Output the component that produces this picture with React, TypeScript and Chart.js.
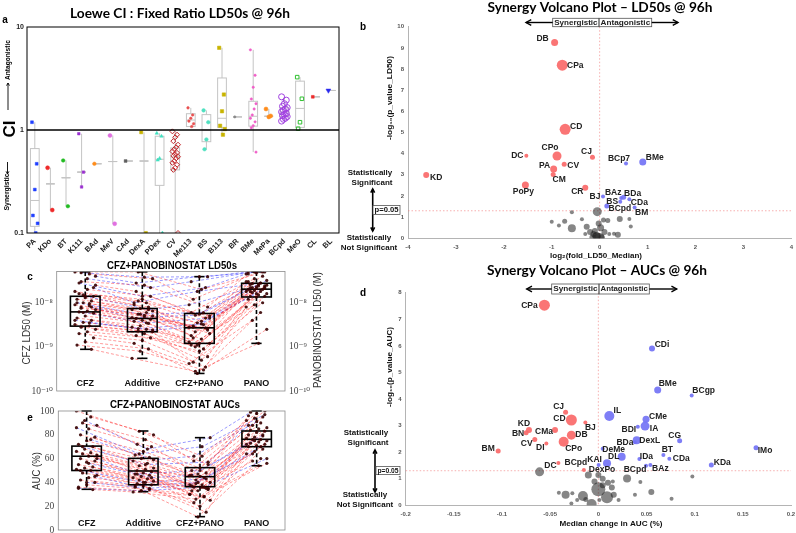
import React, { useEffect, useRef } from "react";
import { Chart, registerables } from "chart.js";

Chart.register(...registerables);

// ================= Panel a : Loewe CI (fixed ratio LD50s) =================
const ciCategories = ["PA", "KDo", "BT", "K111", "BAd", "MeV", "CAd", "DexA", "PDex", "CV", "Me113", "BS", "B113", "BR", "BMe", "MePa", "BCpd", "MeO", "CL", "BL"];
const ciMin = [0.1, 0.167, 0.182, 0.28, 0.47, 0.123, 0.5, 0.1, 0.1, 0.1, 1.05, 0.646, 0.9, 1.34, 0.61, 1.34, 1.22, 1.03, 2.1, 2.42];
const ciQ1 = [0.116, 0.3, 0.344, 0.39, 0.47, 0.494, 0.5, 0.5, 0.29, 0.41, 1.08, 0.77, 1.06, 1.34, 1.09, 1.36, 1.35, 1.06, 2.1, 2.42];
const ciMedian = [0.207, 0.3, 0.344, 0.39, 0.47, 0.494, 0.5, 0.5, 0.52, 0.55, 1.25, 1.0, 1.3, 1.34, 1.36, 1.36, 1.5, 1.62, 2.1, 2.42];
const ciQ3 = [0.66, 0.3, 0.344, 0.39, 0.47, 0.494, 0.5, 0.5, 0.87, 0.67, 1.44, 1.41, 3.2, 1.34, 1.9, 1.36, 1.65, 2.98, 2.1, 2.42];
const ciMax = [1.19, 0.43, 0.506, 0.92, 0.47, 0.885, 0.5, 0.95, 0.93, 0.97, 1.64, 1.55, 6.28, 1.34, 6.0, 1.6, 2.1, 3.26, 2.1, 2.42];
const ciPoints = [
  [1.19, 0.47, 0.264, 0.148, 0.124, 0.1],
  [0.43, 0.167],
  [0.506, 0.182],
  [0.92, 0.39, 0.28],
  [0.47],
  [0.885, 0.123],
  [0.5],
  [0.95, 0.1],
  [0.93, 0.87, 0.53, 0.51, 0.1],
  [0.97, 0.9, 0.85, 0.78, 0.72, 0.68, 0.65, 0.62, 0.6, 0.58, 0.56, 0.55, 0.53, 0.5, 0.48, 0.46, 0.43, 0.41, 0.1],
  [1.64, 1.4, 1.3, 1.22, 1.15, 1.08],
  [1.55, 1.19, 0.81, 0.65],
  [6.28, 2.21, 1.52, 1.1, 1.02, 0.9],
  [1.34],
  [6.0, 3.4, 2.6, 2.0, 1.8, 1.6, 1.4, 1.3, 1.2, 1.1, 1.05, 0.61],
  [1.6, 1.37, 1.34],
  [2.1, 1.95, 1.8, 1.7, 1.65, 1.6, 1.55, 1.5, 1.45, 1.42, 1.38, 1.35, 1.3, 1.27, 1.22],
  [3.26, 2.01, 1.19, 1.03],
  [2.1],
  [2.42],
];
const ciTicks = [0.1, 1, 10];

// ================= Panel b : volcano LD50 =================
const ld50SynNames = ["DB", "CPa", "CD", "CPo", "DC", "PA", "CV", "CM", "CJ", "KD", "PoPy", "CR"];
const ld50SynX = [-0.94, -0.78, -0.72, -0.89, -1.53, -0.96, -0.74, -0.97, -0.15, -3.62, -1.55, -0.3];
const ld50SynY = [9.25, 8.18, 5.15, 3.89, 3.9, 3.27, 3.5, 3.02, 3.83, 2.99, 2.52, 2.39];
const ld50SynSize = [3.5, 5.5, 5.5, 4.5, 2, 3.5, 2.5, 2.5, 2.5, 3, 3.5, 3];
const ld50AntNames = ["BCp7", "BMe", "BJ", "BAz", "BDa", "BS", "CDa", "BCpd", "BM"];
const ld50AntX = [0.55, 0.9, 0.07, 0.45, 0.5, 0.43, 0.62, 0.15, 0.73];
const ld50AntY = [3.54, 3.6, 1.98, 1.9, 1.94, 1.73, 1.84, 1.53, 1.46];
const ld50AntSize = [2, 3.5, 2, 2, 2.5, 2, 2, 2.5, 2];
const ld50NsX = [-0.58, -0.05, -1.0, -0.73, -0.85, -0.58, -0.37, -0.27, -0.2, -0.13, -0.3, -0.07, 0.08, 0.17, 0.42, 0.62, 0.65, 0.02, -0.1, 0.2, 0.3, 0.38, -0.06, 0.04, 0.0, -0.15, -0.02, 0.1];
const ld50NsY = [1.23, 1.26, 0.78, 0.8, 0.6, 0.47, 0.9, 0.55, 0.3, 0.2, 0.2, 0.1, 0.86, 0.84, 0.91, 0.91, 0.56, 0.5, 0.35, 0.2, 0.22, 0.17, 0.1, 0.05, 0.02, 0.05, 0.7, 0.3];
const ld50NsSize = [2, 4.5, 2, 2.5, 2, 4, 2, 3, 3, 3, 2, 4, 2.5, 2.5, 3, 2, 2, 3.5, 3, 2, 2, 3, 4, 3, 5, 3, 3, 3];
const ld50XTicks = [-4, -3, -2, -1, 0, 1, 2, 3, 4];
const ld50YTicks = [0, 1, 2, 3, 4, 5, 6, 7, 8, 9, 10];

// ================= Panel d : volcano AUC =================
const aucSynNames = ["CPa", "CJ", "CD", "BJ", "KD", "BN", "CMa", "DB", "CV", "DI", "CPo", "BM", "DC", "BCpd"];
const aucSynX = [-0.056, -0.034, -0.028, -0.0135, -0.072, -0.075, -0.045, -0.028, -0.066, -0.054, -0.036, -0.104, -0.0415, -0.015];
const aucSynY = [7.53, 3.5, 3.21, 3.12, 2.83, 2.73, 2.83, 2.64, 2.48, 2.33, 2.39, 2.04, 1.59, 1.33];
const aucSynSize = [5.5, 2.5, 5.5, 2, 3, 2.5, 3, 4.5, 2.5, 2, 5, 2.5, 2, 2];
const aucAntNames = ["CDi", "BMe", "BCgp", "IL", "CMe", "BDI", "IA", "CG", "BDa", "DexL", "IMo", "DeMe", "BT", "CDa", "IDa", "DL", "KAI", "DexPo", "BCpd", "BAz", "KDa"];
const aucAntX = [0.0557, 0.0616, 0.0969, 0.0114, 0.0495, 0.041, 0.0485, 0.0844, 0.038, 0.0398, 0.1637, 0.0045, 0.0675, 0.0737, 0.0426, 0.0242, 0.0003, 0.009, 0.0495, 0.054, 0.1173];
const aucAntY = [5.9, 4.34, 4.13, 3.36, 3.24, 2.96, 2.98, 2.43, 2.37, 2.45, 2.17, 2.13, 1.89, 1.75, 1.74, 1.83, 1.52, 1.58, 1.49, 1.52, 1.52];
const aucAntSize = [3, 3.5, 2, 5, 3.5, 2, 4.5, 2.5, 2, 4, 2.5, 2, 2, 2, 2, 4, 2, 4, 2, 2, 2.5];
const aucNsX = [-0.061, -0.0104, 0, 0.0298, 0.0976, 0.0436, 0.0045, -0.004, 0.01, 0.015, 0, 0.009, -0.016, -0.007, -0.034, -0.027, -0.041, -0.013, -0.028, -0.022, 0.014, 0.016, 0.021, 0.001, 0.038, 0.055, 0.076, 0.0045];
const aucNsY = [1.26, 1.14, 1.14, 1.01, 1.08, 0.88, 1.0, 0.9, 0.85, 0.9, 0.6, 0.3, 0.35, 0.05, 0.4, 0.45, 0.47, 0.22, 0.07, 0.2, 0.67, 0.4, 0.2, 0.2, 0.4, 0.5, 0.25, 0.75];
const aucNsSize = [4.5, 3.5, 3, 4, 2, 2, 3, 3, 3, 2, 7, 6, 5, 5, 4, 2, 2, 2.5, 2, 2, 3, 3, 2, 2, 2, 3, 2, 3];
const aucXTicks = [-0.2, -0.15, -0.1, -0.05, 0, 0.05, 0.1, 0.15, 0.2];
const aucYTicks = [0, 1, 2, 3, 4, 5, 6, 7, 8];

// ================= Panel c : CFZ+PANOBINOSTAT LD50s (nM) =================
const groupLabels = ["CFZ", "Additive", "CFZ+PANO", "PANO"];
const ld50Min = [0.88, 0.55, 0.25, 1.2];
const ld50Q1 = [2.95, 2.2, 1.2, 13.5];
const ld50Median = [6.2, 4.4, 2.7, 20.3];
const ld50Q3 = [14, 7.4, 5.7, 27.6];
const ld50Max = [50, 50, 39, 50];
const ld50Cfz = [50, 45, 30, 25, 20, 16, 14, 13, 12, 11, 10, 9, 8.5, 8, 7, 6.5, 6.2, 5.8, 5, 4.5, 4, 3.6, 3.2, 3, 2.8, 2.5, 2.2, 2.0, 1.6, 1.3, 1.1, 0.88, 15, 18, 9.5, 7.5, 40, 35, 28, 22, 14, 10, 8, 6, 4, 3.5, 48];
const ld50Additive = [50, 35, 25, 18, 14, 12, 9, 8, 7.4, 7, 6, 5.5, 5, 4.8, 4.4, 4.2, 4, 3.8, 3.4, 3, 2.8, 2.5, 2.3, 2.2, 2.0, 1.8, 1.6, 1.4, 1.2, 0.9, 0.8, 0.55, 10, 11, 6.5, 5.2, 28, 22, 14, 10, 7, 5.5, 4.6, 3.5, 2.6, 2.4, 38];
const ld50Combo = [20, 12, 8, 5.5, 6, 4.5, 3.5, 2.8, 3.2, 2.2, 2, 1.5, 3, 2.6, 1.2, 1.8, 2.7, 1.1, 1.3, 0.9, 1.0, 1.2, 0.5, 0.45, 0.6, 0.8, 1.1, 0.35, 0.25, 0.42, 0.3, 0.28, 5, 3.8, 1.6, 2.4, 39, 30, 22, 18, 9, 6, 5.2, 4.5, 3.3, 2.8, 39];
const ld50Pano = [50, 48, 45, 40, 35, 30, 28, 27, 25, 24, 22, 21, 21, 20, 20, 19, 18, 18, 17, 16, 15, 14, 14, 13.5, 12, 10, 9, 8, 6, 4, 2.5, 1.2, 26, 24, 23, 30, 50, 50, 45, 28, 22, 32, 26, 18, 22, 16, 50];
const ld50AxisTicks = [1e-10, 1e-9, 1e-8];

// ================= Panel e : CFZ+PANOBINOSTAT AUCs (%) =================
const aucMin = [34.2, 32.2, 11.2, 54];
const aucQ1 = [50, 38, 36.4, 70];
const aucMedian = [62, 49.6, 44.8, 76.2];
const aucQ3 = [70.5, 60.2, 52.4, 83.2];
const aucMax = [100, 83.2, 77.6, 100];
const aucCfz = [100, 95, 90, 88, 85, 80, 78, 75, 72, 70, 68, 66, 65, 64, 63, 62, 60, 58, 57, 55, 53, 52, 51, 50, 48, 46, 44, 42, 40, 38, 36, 34, 92, 86, 76, 70, 60, 56, 50, 45, 40, 35];
const aucAdditive = [83, 80, 76, 72, 70, 66, 63, 61, 60, 58, 56, 54, 52, 51, 50, 49, 48, 47, 46, 45, 44, 43, 42, 41, 40, 39, 38, 37, 36, 34, 33, 32, 68, 64, 59, 55, 47, 44, 40, 37, 35, 33];
const aucCombo = [62, 58, 55, 52, 50, 48, 47, 46, 44, 42, 40, 38, 36, 34, 45, 37, 35, 33, 30, 28, 39, 25, 36, 23, 35, 20, 33, 15, 11, 30, 28, 26, 77.6, 70, 62, 57, 50, 46, 43, 40, 38, 36];
const aucPano = [100, 98, 96, 95, 94, 92, 90, 88, 86, 85, 84, 83, 82, 80, 79, 78, 77, 76, 76, 75, 74, 73, 72, 71, 70, 68, 66, 64, 60, 58, 56, 54, 99, 97, 91, 88, 80, 75, 72, 70, 64, 60];
const aucAxisTicks = [0, 20, 40, 60, 80, 100];

// ================= styles (kept apart from data) =================
const SANS = '"Liberation Sans", Arial, Helvetica, sans-serif';
const SERIF = '"Liberation Serif", "DejaVu Serif", "Times New Roman", serif';
const TITLE = 'Lato, "Open Sans", "Liberation Sans", sans-serif';
const RED = "rgba(250,105,105,0.92)";
const BLUE = "rgba(115,115,245,0.92)";
const GRAY = "rgba(35,35,35,0.55)";
const LINE_RED = "rgba(255,45,45,0.6)";
const LINE_BLUE = "rgba(45,45,255,0.6)";
const DOT = "rgba(55,0,0,0.9)";
const ciColors = ["#1f3fff", "#ee2a2a", "#22bb22", "#9a2fd0", "#ff8c1a", "#e070e0", "#606060", "#c8b400", "#40e0c0", "#c0282c", "#e85050", "#50e0c0", "#c8b400", "#8a8a8a", "#f060c8", "#ff8c1a", "#a040e0", "#30c030", "#ee2a2a", "#2a2aee"];
const ciShapes = ["rect", "circle", "circle", "rect", "circle", "circle", "rect", "rect", "triangle", "rectRot", "circle", "circle", "rect", "circle", "circle", "circle", "circle", "rect", "rect", "triangle"];
const ciFilled = [true, true, true, true, true, true, true, true, true, false, true, true, true, true, true, true, false, false, true, true];
const ciRadius = [2, 2, 1.8, 1.8, 1.8, 2, 2, 2.2, 2, 2.5, 1.3, 1.8, 2.4, 1.2, 1.2, 2, 3, 2.5, 2, 2.8];
const ld50SynOffsets = [[-12, -4], [13, 0], [11, -3], [-7, -8], [-9, 0], [-9, -3], [9, 1], [6, 5], [-6, -6], [10, 3], [-2, 7], [-8, 4]];
const ld50AntOffsets = [[-7, -5], [12, -4], [-8, 0], [-8, -5], [9, -4], [-8, 0], [10, 3], [13, 3], [7, 5]];
const aucSynOffsets = [[-15, 0], [-7, -6], [-12, -1], [5, 5], [-5, -6], [-8, 1], [-11, 2], [10, 0], [-8, 4], [-6, 4], [10, 7], [-10, -2], [-8, 3], [-8, -7]];
const aucAntOffsets = [[10, -4], [10, -6], [12, -5], [8, -5], [12, -3], [-9, 3], [9, 3], [-5, -5], [-10, 0], [13, 0], [9, 3], [11, 1], [4, -5], [12, 0], [7, -2], [-8, 0], [-4, -5], [-5, 6], [-11, 4], [10, 4], [11, -2]];

// ================= helpers =================
type TOpt = { color?: string; align?: CanvasTextAlign; rotate?: number; width?: number };
function drawText(ctx: CanvasRenderingContext2D, s: string, x: number, y: number, font: string, o: TOpt = {}) {
  ctx.save();
  ctx.translate(x, y);
  if (o.rotate) ctx.rotate(o.rotate);
  ctx.font = font;
  ctx.fillStyle = o.color || "#000";
  ctx.textAlign = o.align || "center";
  ctx.textBaseline = "middle";
  if (o.width) {
    const w = ctx.measureText(s).width;
    if (w > 0) ctx.scale(o.width / w, 1);
  }
  ctx.fillText(s, 0, 0);
  ctx.restore();
}
function seg(ctx: CanvasRenderingContext2D, x1: number, y1: number, x2: number, y2: number) {
  ctx.beginPath();
  ctx.moveTo(x1, y1);
  ctx.lineTo(x2, y2);
  ctx.stroke();
}
function arrowHead(ctx: CanvasRenderingContext2D, x1: number, y1: number, x2: number, y2: number, head: number) {
  const a = Math.atan2(y2 - y1, x2 - x1);
  ctx.beginPath();
  ctx.moveTo(x2 - head * Math.cos(a - 0.5), y2 - head * Math.sin(a - 0.5));
  ctx.lineTo(x2, y2);
  ctx.lineTo(x2 - head * Math.cos(a + 0.5), y2 - head * Math.sin(a + 0.5));
  ctx.stroke();
}
function arrow(ctx: CanvasRenderingContext2D, x1: number, y1: number, x2: number, y2: number, head = 5, lw = 1.4, both = false) {
  ctx.save();
  ctx.strokeStyle = "#000";
  ctx.lineWidth = lw;
  seg(ctx, x1, y1, x2, y2);
  arrowHead(ctx, x1, y1, x2, y2, head);
  if (both) arrowHead(ctx, x2, y2, x1, y1, head);
  ctx.restore();
}
const SUP: Record<string, string> = { "0": "⁰", "1": "¹", "2": "²", "3": "³", "4": "⁴", "5": "⁵", "6": "⁶", "7": "⁷", "8": "⁸", "9": "⁹", "-": "⁻" };
function pow10Label(v: number) {
  const e = String(Math.round(Math.log10(v)));
  return "10" + e.split("").map((c) => SUP[c] || c).join("");
}
const fmt = (v: number) => String(Math.round(v * 100) / 100);
const jit = (i: number, k: number) => ((((i * 7 + k * 3) % 11) - 5) * 0.036);

type Box = { pos: number[]; min: number[]; q1: number[]; med: number[]; q3: number[]; max: number[]; half: number; cap: number; color: string; lw: number; dash: number[]; k: number };
function drawBoxes(chart: any, b: Box) {
  const ctx: CanvasRenderingContext2D = chart.ctx;
  const xs = chart.scales.x;
  const ys = chart.scales.y;
  ctx.save();
  ctx.strokeStyle = b.color;
  ctx.lineWidth = b.lw;
  b.pos.forEach((p, i) => {
    const xl = xs.getPixelForValue(p - b.half);
    const xr = xs.getPixelForValue(p + b.half);
    const xc = xs.getPixelForValue(p);
    const y = (v: number) => ys.getPixelForValue(v * b.k);
    ctx.setLineDash(b.dash);
    if (b.max[i] > b.q3[i]) seg(ctx, xc, y(b.max[i]), xc, y(b.q3[i]));
    if (b.min[i] < b.q1[i]) seg(ctx, xc, y(b.q1[i]), xc, y(b.min[i]));
    ctx.setLineDash([]);
    if (b.cap > 0) {
      const cl = xs.getPixelForValue(p - b.cap);
      const cr = xs.getPixelForValue(p + b.cap);
      seg(ctx, cl, y(b.max[i]), cr, y(b.max[i]));
      seg(ctx, cl, y(b.min[i]), cr, y(b.min[i]));
    }
    ctx.strokeRect(xl, y(b.q3[i]), xr - xl, y(b.q1[i]) - y(b.q3[i]));
    seg(ctx, xl, y(b.med[i]), xr, y(b.med[i]));
  });
  ctx.restore();
}

const base = (padding: any) => ({
  responsive: false,
  animation: false,
  devicePixelRatio: 1,
  events: [],
  layout: { autoPadding: false, padding },
  plugins: { legend: { display: false }, tooltip: { enabled: false }, title: { display: false } },
});

// ================= Panel a =================
function makeA(canvas: HTMLCanvasElement) {
  const datasets = ciPoints.map((pts, i) => ({
    data: pts.map((v, j) => ({ x: i + (((j * 5) % 7) - 3) * 0.06, y: v })),
    pointStyle: ciShapes[i],
    pointRadius: ciRadius[i],
    pointRotation: i === 19 ? 180 : 0,
    backgroundColor: ciFilled[i] ? ciColors[i] : "rgba(0,0,0,0)",
    borderColor: ciColors[i],
    borderWidth: ciFilled[i] ? 0.5 : 1,
  }));
  return new Chart(canvas, {
    type: "scatter",
    data: { datasets },
    options: {
      ...base({ left: 0, top: 27, right: 11, bottom: 0 }),
      scales: {
        x: {
          type: "linear", min: -0.5, max: ciCategories.length - 0.5,
          afterBuildTicks: (s: any) => { s.ticks = ciCategories.map((_, i) => ({ value: i })); },
          afterFit: (s: any) => { s.height = 32; s.paddingLeft = 0; s.paddingRight = 0; },
          grid: { display: false, drawTicks: false }, border: { display: false },
          ticks: { autoSkip: false, maxRotation: 45, minRotation: 45, padding: 4, color: "#222", font: { family: SANS, size: 7.5, weight: "bold" }, callback: (v: any) => ciCategories[v] ?? "" },
        },
        y: {
          type: "logarithmic", min: 0.1, max: 10,
          afterBuildTicks: (s: any) => { s.ticks = ciTicks.map((v) => ({ value: v })); },
          afterFit: (s: any) => { s.width = 27; s.paddingTop = 0; s.paddingBottom = 0; },
          grid: { display: false, drawTicks: false }, border: { display: false },
          ticks: { padding: 3, color: "#222", font: { family: SANS, size: 7, weight: "bold" }, callback: (v: any) => String(v) },
        },
      },
    } as any,
    plugins: [{
      id: "decorA",
      beforeDatasetsDraw(chart: any) {
        drawBoxes(chart, { pos: ciCategories.map((_, i) => i), min: ciMin, q1: ciQ1, med: ciMedian, q3: ciQ3, max: ciMax, half: 0.28, cap: 0, color: "#c4c4c4", lw: 1, dash: [], k: 1 });
      },
      afterDraw(chart: any) {
        const ctx: CanvasRenderingContext2D = chart.ctx;
        const a = chart.chartArea;
        const ys = chart.scales.y;
        ctx.save();
        ctx.strokeStyle = "#000";
        ctx.lineWidth = 1;
        ctx.strokeRect(a.left, a.top, a.right - a.left, a.bottom - a.top);
        ctx.lineWidth = 1.3;
        seg(ctx, a.left, ys.getPixelForValue(1), a.right, ys.getPixelForValue(1));
        ctx.restore();
        drawText(ctx, "Loewe CI : Fixed Ratio LD50s @ 96h", 180, 13.5, `bold 13px ${TITLE}`, { width: 220 });
        drawText(ctx, "a", 5, 20, `bold 10px ${SANS}`);
        drawText(ctx, "CI", 10, 129, `bold 17px ${SANS}`, { rotate: -Math.PI / 2 });
        drawText(ctx, "Antagonistic", 8, 60, `bold 7px ${SANS}`, { rotate: -Math.PI / 2, width: 40 });
        arrow(ctx, 8, 110, 8, 83, 3, 0.9);
        drawText(ctx, "Synergistic", 7.5, 192, `bold 7px ${SANS}`, { rotate: -Math.PI / 2, width: 37 });
        arrow(ctx, 7.5, 162, 7.5, 174, 3, 0.9);
      },
    }],
  });
}

// ================= Volcano (b, d) =================
type Group = { x: number[]; y: number[]; size: number[]; color: string; names?: string[]; offsets?: number[][] };
type VSpec = { ox: number; oy: number; top: number; right: number; yW: number; xH: number; xMin: number; xMax: number; yMax: number; xTicks: number[]; yTicks: number[]; groups: Group[]; decor: (ctx: CanvasRenderingContext2D) => void };
function makeVolcano(canvas: HTMLCanvasElement, s: VSpec) {
  const datasets = s.groups.map((g) => ({
    data: g.x.map((x, i) => ({ x, y: g.y[i], r: g.size[i] })),
    backgroundColor: g.color,
    borderWidth: 0,
  }));
  const tickFont = { family: SANS, size: 6, weight: "bold" };
  return new Chart(canvas, {
    type: "bubble",
    data: { datasets },
    options: {
      ...base({ left: 0, top: s.top, right: s.right, bottom: 0 }),
      scales: {
        x: {
          type: "linear", min: s.xMin, max: s.xMax,
          afterBuildTicks: (sc: any) => { sc.ticks = s.xTicks.map((v) => ({ value: v })); },
          afterFit: (sc: any) => { sc.height = s.xH; sc.paddingLeft = 0; sc.paddingRight = 0; },
          grid: { display: false, drawTicks: false }, border: { display: true, color: "#b4b4b4", width: 1 },
          ticks: { padding: 5, autoSkip: false, maxRotation: 0, color: "#555", font: tickFont, callback: (v: any) => fmt(v) },
        },
        y: {
          type: "linear", min: 0, max: s.yMax,
          afterBuildTicks: (sc: any) => { sc.ticks = s.yTicks.map((v) => ({ value: v })); },
          afterFit: (sc: any) => { sc.width = s.yW; sc.paddingTop = 0; sc.paddingBottom = 0; },
          grid: { display: false, drawTicks: false }, border: { display: true, color: "#b4b4b4", width: 1 },
          ticks: { padding: 4, color: "#555", font: tickFont, callback: (v: any) => fmt(v) },
        },
      },
    } as any,
    plugins: [{
      id: "volcanoDecor",
      beforeDatasetsDraw(chart: any) {
        const ctx: CanvasRenderingContext2D = chart.ctx;
        const a = chart.chartArea;
        const x0 = chart.scales.x.getPixelForValue(0);
        const yp = chart.scales.y.getPixelForValue(-Math.log10(0.05));
        ctx.save();
        ctx.strokeStyle = "rgba(240,120,120,0.75)";
        ctx.lineWidth = 0.8;
        ctx.setLineDash([1.5, 2]);
        seg(ctx, x0, a.top, x0, a.bottom);
        seg(ctx, a.left, yp, a.right, yp);
        ctx.restore();
      },
      afterDatasetsDraw(chart: any) {
        const ctx: CanvasRenderingContext2D = chart.ctx;
        const xs = chart.scales.x;
        const ys = chart.scales.y;
        s.groups.forEach((g) => {
          if (!g.names || !g.offsets) return;
          g.names.forEach((n, i) => {
            const px = xs.getPixelForValue(g.x[i]);
            const py = ys.getPixelForValue(g.y[i]);
            drawText(ctx, n, px + g.offsets![i][0], py + g.offsets![i][1], `bold 8.5px ${SANS}`, { color: "#222" });
          });
        });
      },
      afterDraw(chart: any) {
        const ctx: CanvasRenderingContext2D = chart.ctx;
        ctx.save();
        ctx.translate(-s.ox, -s.oy);
        s.decor(ctx);
        ctx.restore();
      },
    }],
  });
}

function synAnt(ctx: CanvasRenderingContext2D, x1: number, xm: number, x2: number, y1: number, y2: number, al: number, ar: number) {
  ctx.save();
  ctx.strokeStyle = "#555";
  ctx.lineWidth = 0.8;
  ctx.strokeRect(x1, y1, xm - x1, y2 - y1);
  ctx.strokeRect(xm, y1, x2 - xm, y2 - y1);
  ctx.restore();
  const yc = (y1 + y2) / 2;
  drawText(ctx, "Synergistic", (x1 + xm) / 2, yc + 0.3, `bold 7.5px ${SANS}`, { color: "#222", width: xm - x1 - 3 });
  drawText(ctx, "Antagonistic", (xm + x2) / 2, yc + 0.3, `bold 7.5px ${SANS}`, { color: "#222", width: x2 - xm - 3 });
  arrow(ctx, x1, yc, al, yc, 6, 1.4);
  arrow(ctx, x2, yc, ar, yc, 6, 1.4);
}
function sigNote(ctx: CanvasRenderingContext2D, cx: number, ys1: number, ax: number, ay1: number, ay2: number, bx1: number, by1: number, by2: number, ys2: number) {
  const f = `bold 8px ${SANS}`;
  drawText(ctx, "Statistically", cx, ys1, f, { color: "#111" });
  drawText(ctx, "Significant", cx + 2, ys1 + 10, f, { color: "#111" });
  arrow(ctx, ax, ay1, ax, ay2, 4, 1.6, true);
  ctx.save();
  ctx.fillStyle = "#fff";
  ctx.fillRect(bx1, by1, 400 - bx1, by2 - by1);
  ctx.strokeStyle = "#555";
  ctx.lineWidth = 0.8;
  ctx.strokeRect(bx1, by1, 400 - bx1, by2 - by1);
  ctx.restore();
  drawText(ctx, "p=0.05", (bx1 + 400) / 2, (by1 + by2) / 2 + 0.3, `bold 7.5px ${SANS}`, { color: "#111", width: 400 - bx1 - 3 });
  drawText(ctx, "Statistically", cx - 1, ys2, f, { color: "#111" });
  drawText(ctx, "Not Significant", cx - 1, ys2 + 10, f, { color: "#111" });
}

const VOX = 330; // left of the volcano canvases (page px)

function makeB(canvas: HTMLCanvasElement) {
  return makeVolcano(canvas, {
    ox: VOX, oy: 0, top: 26.7, right: 4.7, yW: 408 - VOX, xH: 26.7, xMin: -4, xMax: 4, yMax: 10,
    xTicks: ld50XTicks, yTicks: ld50YTicks,
    groups: [
      { x: ld50SynX, y: ld50SynY, size: ld50SynSize, color: RED, names: ld50SynNames, offsets: ld50SynOffsets },
      { x: ld50AntX, y: ld50AntY, size: ld50AntSize, color: BLUE, names: ld50AntNames, offsets: ld50AntOffsets },
      { x: ld50NsX, y: ld50NsY, size: ld50NsSize, color: GRAY },
    ],
    decor: (ctx) => {
      drawText(ctx, "Synergy Volcano Plot – LD50s @ 96h", 600, 8, `bold 13px ${TITLE}`, { width: 225 });
      drawText(ctx, "b", 363, 27, `bold 10px ${SANS}`);
      synAnt(ctx, 552.7, 599, 651.7, 18.3, 26.7, 526, 678);
      drawText(ctx, "-log₁₀(p_value_LD50)", 390, 98, `bold 7.5px ${SANS}`, { rotate: -Math.PI / 2, width: 84, color: "#111" });
      drawText(ctx, "log₂(fold_LD50_Median)", 596, 256, `bold 8px ${SANS}`, { width: 92, color: "#111" });
      sigNote(ctx, 370, 173, 372.7, 189, 231, 373, 205.5, 214.5, 238);
    },
  });
}

function makeD(canvas: HTMLCanvasElement) {
  return makeVolcano(canvas, {
    ox: VOX, oy: 265, top: 27.7, right: 5, yW: 405.7 - VOX, xH: 27.7, xMin: -0.2, xMax: 0.2, yMax: 8,
    xTicks: aucXTicks, yTicks: aucYTicks,
    groups: [
      { x: aucSynX, y: aucSynY, size: aucSynSize, color: RED, names: aucSynNames, offsets: aucSynOffsets },
      { x: aucAntX, y: aucAntY, size: aucAntSize, color: BLUE, names: aucAntNames, offsets: aucAntOffsets },
      { x: aucNsX, y: aucNsY, size: aucNsSize, color: GRAY },
    ],
    decor: (ctx) => {
      drawText(ctx, "Synergy Volcano Plot – AUCs @ 96h", 597, 271, `bold 13px ${TITLE}`, { width: 220 });
      drawText(ctx, "d", 363, 293, `bold 10px ${SANS}`);
      synAnt(ctx, 551.7, 599, 649.3, 284, 294, 526.7, 676.7);
      drawText(ctx, "-log₁₀(p_value_AUC)", 390, 367, `bold 7.5px ${SANS}`, { rotate: -Math.PI / 2, width: 80, color: "#111" });
      drawText(ctx, "Median change in AUC (%)", 611, 524, `bold 8px ${SANS}`, { width: 103, color: "#111" });
      sigNote(ctx, 366, 433, 375, 450, 492, 376, 466.5, 474.5, 495);
    },
  });
}

// ================= Paired box panels (c, e) =================
type PSpec = {
  ox: number; oy: number; pad: any; yW: number; rightAxis: boolean; yType: string; yMin: number; yMax: number; k: number;
  ticks: number[]; tickFmt: (v: number) => string;
  series: number[][]; box: { min: number[]; q1: number[]; med: number[]; q3: number[]; max: number[] };
  labelY: number; decor: (ctx: CanvasRenderingContext2D) => void;
};
function makePaired(canvas: HTMLCanvasElement, s: PSpec) {
  const [cfz, add, combo, pano] = s.series;
  const lines = cfz.map((_, i) => {
    const vals = [cfz[i], add[i], combo[i], pano[i]];
    const syn = combo[i] < add[i];
    return {
      type: "line",
      data: vals.map((v, k) => ({ x: k + 1 + jit(i, k), y: v * s.k })),
      borderColor: syn ? LINE_RED : LINE_BLUE,
      borderWidth: 0.8,
      borderDash: [3, 2],
      pointRadius: 0,
      fill: false,
      tension: 0,
    };
  });
  const dots = {
    type: "scatter",
    data: lines.flatMap((l) => l.data),
    pointRadius: 1.6,
    backgroundColor: DOT,
    borderWidth: 0,
  };
  const yAxis = (pos: string) => ({
    type: s.yType, position: pos, min: s.yMin, max: s.yMax,
    afterBuildTicks: (sc: any) => { sc.ticks = s.ticks.map((v) => ({ value: v })); },
    afterFit: (sc: any) => { sc.width = pos === "left" ? s.yW : 60; sc.paddingTop = 0; sc.paddingBottom = 0; },
    grid: { display: false, drawTicks: false }, border: { display: false },
    ticks: { padding: 4, color: "#444", font: { family: SERIF, size: 9.5 }, callback: (v: any) => s.tickFmt(v) },
  });
  const scales: any = {
    x: { type: "linear", min: 0.5, max: 4.5, display: false },
    y: yAxis("left"),
  };
  if (s.rightAxis) scales.y2 = yAxis("right");
  return new Chart(canvas, {
    type: "scatter",
    data: { datasets: [dots, ...lines] as any },
    options: { ...base(s.pad), scales } as any,
    plugins: [{
      id: "pairedDecor",
      afterDatasetDraw(chart: any, args: any) {
        if (args.index !== 1) return;
        drawBoxes(chart, { pos: [1, 2, 3, 4], min: s.box.min, q1: s.box.q1, med: s.box.med, q3: s.box.q3, max: s.box.max, half: 0.26, cap: 0.09, color: "#000", lw: 1.6, dash: [4, 2.5], k: s.k });
      },
      afterDraw(chart: any) {
        const ctx: CanvasRenderingContext2D = chart.ctx;
        const a = chart.chartArea;
        ctx.save();
        ctx.strokeStyle = "#8c8c8c";
        ctx.lineWidth = 0.8;
        ctx.strokeRect(a.left, a.top, a.right - a.left, a.bottom - a.top);
        ctx.restore();
        groupLabels.forEach((g, k) => {
          drawText(ctx, g, chart.scales.x.getPixelForValue(k + 1), s.labelY - s.oy, `bold 9px ${SANS}`, { color: "#111" });
        });
        ctx.save();
        ctx.translate(-s.ox, -s.oy);
        s.decor(ctx);
        ctx.restore();
      },
    }],
  });
}

function makeC(canvas: HTMLCanvasElement) {
  return makePaired(canvas, {
    ox: 0, oy: 255, pad: { left: 0, top: 16.5, right: 0, bottom: 9 }, yW: 56.7, rightAxis: true,
    yType: "logarithmic", yMin: 1e-10, yMax: 5.1e-8, k: 1e-9, ticks: ld50AxisTicks, tickFmt: pow10Label,
    series: [ld50Cfz, ld50Additive, ld50Combo, ld50Pano],
    box: { min: ld50Min, q1: ld50Q1, med: ld50Median, q3: ld50Q3, max: ld50Max },
    labelY: 384,
    decor: (ctx) => {
      drawText(ctx, "CFZ+PANOBINOSTAT LD50s", 172, 266, `bold 10px ${SANS}`, { width: 130 });
      drawText(ctx, "c", 30, 277, `bold 10px ${SANS}`);
      drawText(ctx, "CFZ LD50 (M)", 27, 333, `10.5px ${SANS}`, { rotate: -Math.PI / 2, color: "#333", width: 63 });
      drawText(ctx, "PANOBINOSTAT LD50 (M)", 318, 330, `10.5px ${SANS}`, { rotate: -Math.PI / 2, color: "#333", width: 116 });
    },
  });
}

function makeE(canvas: HTMLCanvasElement) {
  return makePaired(canvas, {
    ox: 0, oy: 398, pad: { left: 0, top: 13, right: 60, bottom: 3 }, yW: 58.3, rightAxis: false,
    yType: "linear", yMin: 0, yMax: 100, k: 1, ticks: aucAxisTicks, tickFmt: (v) => String(v),
    series: [aucCfz, aucAdditive, aucCombo, aucPano],
    box: { min: aucMin, q1: aucQ1, med: aucMedian, q3: aucQ3, max: aucMax },
    labelY: 524,
    decor: (ctx) => {
      drawText(ctx, "CFZ+PANOBINOSTAT AUCs", 175, 405, `bold 10px ${SANS}`, { width: 130 });
      drawText(ctx, "e", 30, 418, `bold 10px ${SANS}`);
      drawText(ctx, "AUC (%)", 37, 471, `10.5px ${SANS}`, { rotate: -Math.PI / 2, color: "#333", width: 38 });
    },
  });
}

export default function App() {
  const refA = useRef<HTMLCanvasElement>(null);
  const refB = useRef<HTMLCanvasElement>(null);
  const refC = useRef<HTMLCanvasElement>(null);
  const refD = useRef<HTMLCanvasElement>(null);
  const refE = useRef<HTMLCanvasElement>(null);

  useEffect(() => {
    const charts: Chart[] = [];
    if (refA.current) charts.push(makeA(refA.current));
    if (refB.current) charts.push(makeB(refB.current));
    if (refC.current) charts.push(makeC(refC.current));
    if (refD.current) charts.push(makeD(refD.current));
    if (refE.current) charts.push(makeE(refE.current));
    return () => charts.forEach((c) => c.destroy());
  }, []);

  const pos = (left: number, top: number) => ({ position: "absolute" as const, left, top });
  return (
    <div style={{ position: "absolute", left: 0, top: 0, width: 796, height: 533, background: "#fff", overflow: "hidden" }}>
      <canvas ref={refA} width={350} height={265} style={pos(0, 0)} />
      <canvas ref={refB} width={796 - VOX} height={265} style={pos(VOX, 0)} />
      <canvas ref={refC} width={345} height={145} style={pos(0, 255)} />
      <canvas ref={refD} width={796 - VOX} height={268} style={pos(VOX, 265)} />
      <canvas ref={refE} width={345} height={135} style={pos(0, 398)} />
    </div>
  );
}
